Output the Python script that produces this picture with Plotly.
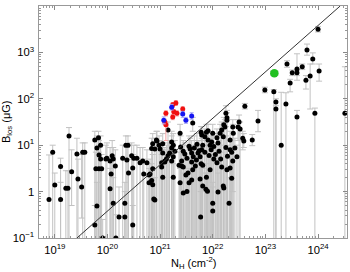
import numpy as np
import plotly.graph_objects as go

# ---- data (log10 values) ----
logNH_black = [18.89,18.96,19.00,19.11,19.11,19.21,19.25,19.27,19.32,19.42,
19.44,19.51,19.53,19.57,19.76,19.80,19.84,19.87,19.83,19.78,
19.84,19.80,19.76,19.91,19.87,19.89,19.97,19.99,20.05,20.09,
20.11,20.15,20.07,20.05,20.11,20.22,20.33,20.33,20.16,20.48,
20.29,20.37,20.35,20.39,20.46,20.48,20.50,20.56,20.62,20.67,
20.40,20.69,20.79,20.86,20.75,20.79,20.86,20.90,20.94,20.98,
21.05,20.84,20.86,20.88,21.05,21.03,21.09,21.12,21.15,21.18,
21.22,21.25,21.15,20.93,20.84,21.00,21.05,21.09,21.03,20.81,
21.22,21.28,21.25,21.22,21.38,21.39,21.44,21.47,21.41,21.44,
21.51,21.57,21.60,21.63,21.60,21.69,21.72,21.76,21.79,21.81,
21.79,21.85,21.88,21.91,21.95,21.98,22.00,22.08,22.10,22.14,
22.17,22.20,22.23,22.27,22.33,22.33,22.39,22.42,22.46,22.48,
22.52,22.57,22.59,22.75,20.90,21.25,21.49,21.44,21.60,21.76,
21.81,22.00,22.00,21.77,22.31,22.21,22.10,22.36,22.38,22.33,
22.27,22.17,21.95,21.88,22.08,21.81,21.62,21.53,21.38,21.51,
21.87,21.90,22.20,21.36,21.41,21.55,21.55,21.65,21.70,21.74,
21.78,21.85,21.93,21.97,22.02,22.05,22.12,22.15,22.25,22.28,
22.36,21.67,22.02,22.25,22.27,22.38,22.50,22.21,22.61,22.86,
21.62,21.78,21.91,22.99,23.16,23.20,23.20,23.30,23.39,23.41,
23.47,23.51,23.60,23.60,23.60,23.70,23.77,23.79,23.85,23.90,
23.94,24.00,24.02,24.51]
logB_black = [-0.17,0.85,0.14,0.54,-0.17,0.07,0.07,1.20,0.43,0.81,
0.27,0.10,0.85,0.85,1.11,0.94,0.79,1.00,1.16,0.49,
0.49,-0.31,-0.72,-1.00,0.70,0.49,0.70,0.72,0.66,0.77,
0.70,0.55,0.38,0.06,-0.25,-0.55,-0.55,-0.25,-1.00,-0.72,
0.72,0.68,1.00,1.00,0.77,0.51,0.72,0.72,0.62,0.66,
0.40,0.38,0.19,0.49,0.62,0.36,1.03,0.92,1.09,1.00,
1.03,0.24,0.15,-0.16,0.31,0.62,0.66,0.70,0.77,0.83,
0.94,1.00,1.33,1.11,0.93,0.92,0.83,0.64,0.53,0.38,
1.07,0.87,0.75,0.66,1.26,0.96,0.87,0.81,0.66,0.53,
0.72,0.92,0.83,0.75,0.64,0.68,0.83,0.75,0.90,1.00,
1.22,1.18,1.28,1.11,1.00,1.07,1.26,1.16,1.05,1.26,
1.33,1.18,1.39,1.54,1.11,0.90,1.26,0.94,0.75,1.39,
1.35,1.15,1.09,1.11,-0.18,0.31,0.36,-0.03,0.25,0.27,
0.12,-0.25,-0.42,-0.55,-0.25,0.08,-0.01,0.29,0.66,0.51,
0.47,0.53,0.47,0.31,0.62,0.57,0.47,0.40,0.19,0.00,
0.05,0.01,0.12,0.57,0.55,0.19,0.98,0.94,1.02,0.88,
0.60,0.85,0.78,0.90,0.97,0.80,0.87,0.70,0.95,0.76,
0.85,0.55,0.70,1.69,1.59,1.39,1.50,1.44,1.84,1.52,
1.48,1.28,1.31,2.19,2.15,1.93,1.78,1.00,1.89,2.75,
2.34,2.56,2.64,2.56,1.61,2.69,2.40,3.05,2.49,2.86,
1.69,3.50,2.60,1.69]
logB_hi_black = [0.79,1.00,0.40,0.72,0.20,0.45,0.45,1.38,0.90,1.15,
0.70,0.80,1.05,1.05,1.30,1.20,1.10,1.20,1.30,0.85,
0.85,0.20,-0.30,-0.60,1.00,0.80,1.00,1.05,0.95,1.10,
0.95,0.90,0.70,0.50,0.30,0.10,0.00,0.20,-0.50,-0.30,
1.00,0.95,1.20,1.20,1.05,0.80,1.00,1.00,0.95,0.95,
0.70,0.70,0.50,0.80,0.90,0.60,1.25,1.15,1.30,1.20,
1.25,0.60,0.50,0.30,0.65,0.90,0.95,1.00,1.05,1.10,
1.20,1.25,1.50,1.30,1.15,1.10,1.05,0.90,0.80,0.70,
1.30,1.10,1.00,0.90,1.45,1.20,1.10,1.05,0.90,0.80,
1.00,1.15,1.10,1.00,0.90,0.95,1.10,1.00,1.15,1.25,
1.40,1.35,1.45,1.30,1.20,1.25,1.45,1.35,1.25,1.45,
1.50,1.35,1.55,1.70,1.30,1.10,1.45,1.15,1.00,1.55,
1.50,1.30,1.25,1.23,0.30,0.60,0.70,0.40,0.60,0.60,
0.50,0.20,0.10,0.00,0.30,0.50,0.40,0.70,0.95,0.80,
0.80,0.85,0.80,0.60,0.90,0.85,0.80,0.70,0.50,0.40,
0.40,0.40,0.50,0.85,0.85,0.50,1.20,1.20,1.25,1.10,
0.90,1.10,1.00,1.15,1.20,1.05,1.10,1.00,1.20,1.00,
1.10,0.85,0.95,1.85,1.75,1.55,1.65,1.60,1.90,1.75,
1.60,1.40,1.45,2.25,2.20,2.00,1.85,2.14,2.13,2.82,
2.42,2.62,2.97,2.62,1.75,2.75,2.50,3.18,2.75,2.99,
1.80,3.56,2.75,2.69]
logB_lo_black = [-3,-3,-3,-3,-3,-3,-3,-3,-0.30,-3,
-3,-0.57,-3,-3,-3,-3,-3,-3,-3,-3,
-3,-3,-3,-3,-3,-3,-3,-3,-3,-3,
-3,-3,-3,-3,-3,-3,-3,-3,-3,-3,
-3,-3,-3,-3,-3,-3,-3,-3,-3,-3,
-3,-3,-3,-3,-3,-3,-3,-3,-3,-3,
-3,-3,-3,-3,-3,-3,-3,-3,-3,-3,
-3,-3,-3,-3,-3,-3,-3,-3,-3,-3,
-3,-3,-3,-3,-3,-3,-3,-3,-3,-3,
-3,-3,-3,-3,-3,-3,-3,-3,-3,-3,
-3,-3,-3,-3,-3,-3,-3,-3,-3,-3,
-3,-3,-3,-3,-3,-3,-3,-3,-3,1.10,
-3,0.90,0.95,0.99,-3,-3,-3,-3,-3,-3,
-3,-3,-3,-3,-3,-3,-3,-3,0.00,-3,
-3,-3,-3,-3,-3,-3,-3,-3,-3,-3,
-3,-3,-3,-3,-3,-3,-3,-3,-3,-3,
-3,-3,-3,-3,-3,-3,-3,-3,-3,-3,
-3,-3,-3,1.40,-3,-3,-3,-3,1.78,1.29,
1.30,-3,-3,2.13,-3,-3,-3,-3,-3,2.68,
2.15,2.50,2.40,2.50,-3,2.63,2.21,2.94,1.78,2.75,
-3,3.44,2.38,-3]

logNH_red = [21.11, 21.11, 21.09, 21.24, 21.30, 21.26, 21.32, 21.24, 21.43]
logB_red = [1.69, 1.44, 1.50, 1.87, 1.91, 1.72, 1.69, 1.61, 1.78]
logB_lo_red = [1.63, 1.10, 1.44, 1.82, 1.86, 1.66, 1.63, 1.55, 1.73]
logB_hi_red = [1.74, 1.50, 1.56, 1.92, 1.96, 1.77, 1.74, 1.66, 1.83]

logNH_blue = [21.07, 21.22, 21.43, 21.49, 21.60]
logB_blue = [1.54, 1.82, 1.67, 1.54, 1.63]
logB_lo_blue = [1.46, 1.76, 1.60, 1.47, 1.56]
logB_hi_blue = [1.61, 1.88, 1.73, 1.60, 1.70]

logNH_green = [23.17]
logB_green = [2.55]
logB_lo_green = [2.51]
logB_hi_green = [2.59]

line_logNH = [19.42, 24.42]
line_logB = [-1.0, 4.0]

FONT = "Liberation Sans, Arial, sans-serif"


def build(lx, ly, lhi, llo):
    x = 10 ** np.array(lx, float)
    y = 10 ** np.array(ly, float)
    hi = 10 ** np.array(lhi, float)
    lo = 10 ** np.array(llo, float)
    return x, y, hi - y, y - lo


fig = go.Figure()

xb, yb, epb, emb = build(logNH_black, logB_black, logB_hi_black, logB_lo_black)
fig.add_trace(go.Scatter(
    x=xb, y=yb, mode="markers",
    marker=dict(color="black", size=5),
    error_y=dict(type="data", array=epb, arrayminus=emb, symmetric=False,
                 color="#c2c2c2", thickness=1, width=3),
    showlegend=False))

fig.add_trace(go.Scatter(
    x=10 ** np.array(line_logNH), y=10 ** np.array(line_logB), mode="lines",
    line=dict(color="#333333", width=1), showlegend=False))

xr, yr, epr, emr = build(logNH_red, logB_red, logB_hi_red, logB_lo_red)
fig.add_trace(go.Scatter(
    x=xr, y=yr, mode="markers",
    marker=dict(color="#f01010", size=5),
    error_y=dict(type="data", array=epr, arrayminus=emr, symmetric=False,
                 color="#f5a0a0", thickness=1, width=2),
    showlegend=False))

xbl, ybl, epbl, embl = build(logNH_blue, logB_blue, logB_hi_blue, logB_lo_blue)
fig.add_trace(go.Scatter(
    x=xbl, y=ybl, mode="markers",
    marker=dict(color="#1515f0", size=5),
    error_y=dict(type="data", array=epbl, arrayminus=embl, symmetric=False,
                 color="#a8a8f5", thickness=1, width=2),
    showlegend=False))

xg, yg, epg, emg = build(logNH_green, logB_green, logB_hi_green, logB_lo_green)
fig.add_trace(go.Scatter(
    x=xg, y=yg, mode="markers",
    marker=dict(color="#22c022", size=8.5),
    error_y=dict(type="data", array=epg, arrayminus=emg, symmetric=False,
                 color="#b4b4b4", thickness=1.1, width=4),
    showlegend=False))

axis_common = dict(
    type="log", dtick=1, exponentformat="power", automargin=False,
    ticks="inside", ticklen=4, tickcolor="#888888", tickwidth=1,
    showline=True, linecolor="#999999", linewidth=1, mirror="ticks",
    showgrid=False, zeroline=False,
    minor=dict(ticks="inside", ticklen=2, tickcolor="#999999", dtick="D1", showgrid=False),
    tickfont=dict(family=FONT, size=9, color="black"),
)

fig.update_xaxes(**axis_common, range=[18.7, 24.55], ticklabelstandoff=2)
fig.update_yaxes(**axis_common, range=[-1, 4], ticklabelstandoff=2,
                 labelalias={"10": "10<sup>1</sup>"})

fig.add_annotation(text="N<sub>H</sub> (cm<sup>-2</sup>)", xref="paper", yref="paper",
                   x=0.5, y=0, xanchor="center", yanchor="top", yshift=-15,
                   showarrow=False, font=dict(family=FONT, size=11, color="black"))
fig.add_annotation(text="B<sub>los</sub> (\u03bcG)", xref="paper", yref="paper",
                   x=0, y=0.5, xanchor="right", yanchor="middle", xshift=-23,
                   textangle=-90, showarrow=False,
                   font=dict(family=FONT, size=11, color="black"))

fig.update_layout(
    width=350, height=272,
    margin=dict(l=39, r=3, t=6, b=34),
    paper_bgcolor="white", plot_bgcolor="white",
    font=dict(family=FONT, color="black"),
)

fig.write_html("out.html", config={"displayModeBar": False},
               post_script="document.body.style.margin='0px';document.body.style.overflow='hidden';")
